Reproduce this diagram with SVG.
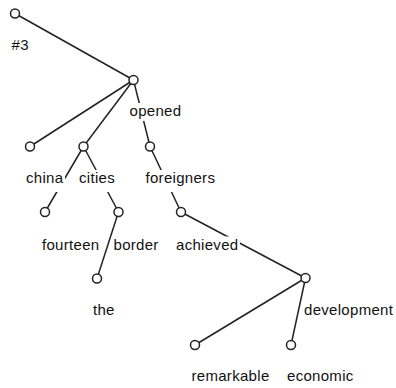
<svg xmlns="http://www.w3.org/2000/svg" width="396" height="388" viewBox="0 0 396 388">
<style>
.e{stroke:#222;stroke-width:1.5;fill:none}
.n{fill:#fff;stroke:#222;stroke-width:1.5}
.bg{fill:#fff}
.t{font-family:"Liberation Sans",Arial,sans-serif;font-size:15px;letter-spacing:0.3px;fill:#111}
</style>
<rect width="396" height="388" fill="#fff"/>
<g id="edges">
<line class="e" x1="15" y1="13.5" x2="133.5" y2="80"/>
<line class="e" x1="133.5" y1="80" x2="30" y2="146.5"/>
<line class="e" x1="133.5" y1="80" x2="83.5" y2="146.5"/>
<line class="e" x1="133.5" y1="80" x2="150" y2="146.5"/>
<line class="e" x1="83.5" y1="146.5" x2="45" y2="212"/>
<line class="e" x1="83.5" y1="146.5" x2="118.5" y2="212"/>
<line class="e" x1="118.5" y1="212" x2="97" y2="278.5"/>
<line class="e" x1="150" y1="146.5" x2="181" y2="212"/>
<line class="e" x1="181" y1="212" x2="305.5" y2="278"/>
<line class="e" x1="305.5" y1="278" x2="195" y2="345"/>
<line class="e" x1="305.5" y1="278" x2="291" y2="345"/>
</g>
<g id="n-root"><circle class="n" cx="15" cy="13.5" r="4.5"/><rect class="bg" x="9.5" y="37" width="19" height="20"/><text class="t" x="11.5" y="50">#3</text></g>
<g id="n-opened"><circle class="n" cx="133.5" cy="80" r="4.5"/><rect class="bg" x="127.5" y="103" width="56" height="18"/><text class="t" x="129.5" y="116">opened</text></g>
<g id="n-china"><circle class="n" cx="30" cy="146.5" r="4.5"/><rect class="bg" x="24" y="170" width="41" height="22"/><text class="t" x="26" y="183">china</text></g>
<g id="n-cities"><circle class="n" cx="83.5" cy="146.5" r="4.5"/><rect class="bg" x="77" y="170" width="40" height="22"/><text class="t" x="79" y="183">cities</text></g>
<g id="n-foreigners"><circle class="n" cx="150" cy="146.5" r="4.5"/><rect class="bg" x="143.5" y="170" width="73" height="22"/><text class="t" x="145.5" y="183">foreigners</text></g>
<g id="n-fourteen"><circle class="n" cx="45" cy="212" r="4.5"/><rect class="bg" x="40" y="236.5" width="61" height="21"/><text class="t" x="42" y="249.5">fourteen</text></g>
<g id="n-border"><circle class="n" cx="118.5" cy="212" r="4.5"/><rect class="bg" x="111.5" y="236.5" width="49" height="21"/><text class="t" x="113.5" y="249.5">border</text></g>
<g id="n-achieved"><circle class="n" cx="181" cy="212" r="4.5"/><rect class="bg" x="174" y="236.5" width="66" height="21"/><text class="t" x="176" y="249.5">achieved</text></g>
<g id="n-the"><circle class="n" cx="97" cy="278.5" r="4.5"/><rect class="bg" x="91" y="302" width="26" height="20"/><text class="t" x="93" y="315">the</text></g>
<g id="n-development"><circle class="n" cx="305.5" cy="278" r="4.5"/><rect class="bg" x="302.5" y="301.5" width="93" height="20"/><text class="t" x="304" y="314.5">development</text></g>
<g id="n-remarkable"><circle class="n" cx="195" cy="345" r="4.5"/><rect class="bg" x="189.5" y="368" width="82" height="20"/><text class="t" x="191.5" y="381">remarkable</text></g>
<g id="n-economic"><circle class="n" cx="291" cy="345" r="4.5"/><rect class="bg" x="285" y="368" width="71" height="20"/><text class="t" x="287" y="381">economic</text></g>
</svg>
